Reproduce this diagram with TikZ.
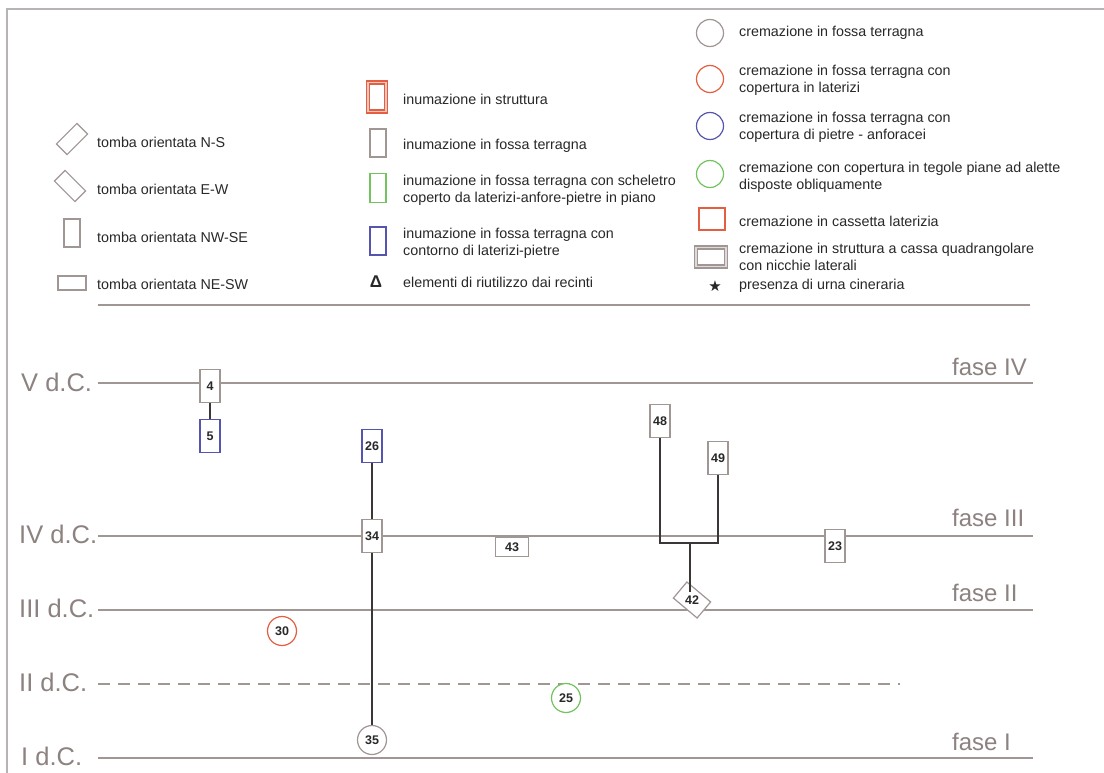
\documentclass[tikz,border=0pt]{standalone}
\usepackage{fontspec}
\setmainfont{Liberation Sans}
\newfontfamily\symfont{DejaVu Sans}
\usetikzlibrary{shapes.geometric}
\definecolor{gline}{RGB}{160,150,148}
\definecolor{framec}{RGB}{185,180,180}
\definecolor{labelc}{RGB}{140,130,128}
\definecolor{txt}{RGB}{40,40,40}
\definecolor{ored}{RGB}{228,95,65}
\definecolor{bblue}{RGB}{85,85,175}
\definecolor{ggreen}{RGB}{115,195,95}
\definecolor{conn}{RGB}{60,55,55}
\tikzset{
  legtext/.style={anchor=west, text=txt, font=\fontsize{14.3}{17}\selectfont, align=left, inner sep=0pt},
  shp/.style={draw=gline, fill=white, line width=1.2pt, inner sep=0pt},
  numfont/.style={font=\fontsize{12.5}{14}\selectfont\bfseries, text=txt},
  vbox/.style={shp, rectangle, minimum width=20pt, minimum height=33pt, numfont},
  hbox/.style={shp, rectangle, minimum width=33pt, minimum height=19pt, numfont},
  circ/.style={shp, circle, minimum size=29pt, numfont},
  timeline/.style={draw=gline, line width=1.3pt},
  datelabel/.style={anchor=base west, text=labelc, font=\fontsize{25.5}{27}\selectfont, inner sep=0pt},
  faselabel/.style={anchor=base west, text=labelc, font=\fontsize{24}{26}\selectfont, inner sep=0pt},
  link/.style={draw=conn, line width=1.6pt}
}
\begin{document}
\begin{tikzpicture}[x=1pt,y=-1pt]
\useasboundingbox (0,0) rectangle (1104,773);
\fill[white] (0,0) rectangle (1104,773);
% frame
\draw[framec, line width=1.3pt] (7,773) -- (7,9) -- (1104,9);

% ---------- legend left ----------
\node[shp, rectangle, minimum width=29pt, minimum height=15pt, rotate=45] (lns) at (72,139) {};
\node[legtext] (tns) at (97,142) {tomba orientata N-S};
\node[shp, rectangle, minimum width=29pt, minimum height=15pt, rotate=-45] (lew) at (70,186) {};
\node[legtext] (tew) at (97,189) {tomba orientata E-W};
\node[shp, rectangle, minimum width=16pt, minimum height=28pt] (lnw) at (72,233) {};
\node[legtext] (tnw) at (97,237) {tomba orientata NW-SE};
\node[shp, rectangle, minimum width=28pt, minimum height=14pt] (lne) at (72,283) {};
\node[legtext] (tne) at (97,284) {tomba orientata NE-SW};

% ---------- legend middle ----------
\node[draw=ored, double=ored!35, double distance=1.4pt, line width=1.4pt, minimum width=18pt, minimum height=29pt, inner sep=0pt] (lis) at (377,97) {};
\node[legtext] (tis) at (403,99) {inumazione in struttura};
\node[shp, minimum width=16pt, minimum height=28pt] (lif) at (378,143) {};
\node[legtext] (tif) at (403,146) {inumazione in fossa terragna};
\node[shp, draw=ggreen, minimum width=16pt, minimum height=29pt] (lig) at (378,188) {};
\node[legtext] (tig) at (403,190) {inumazione in fossa terragna con scheletro\\coperto da laterizi-anfore-pietre in piano};
\node[shp, draw=bblue, minimum width=16pt, minimum height=28pt] (lib) at (378,241) {};
\node[legtext] (tib) at (403,243) {inumazione in fossa terragna con\\contorno di laterizi-pietre};
\node[text=txt, font=\fontsize{17}{18}\selectfont\bfseries, inner sep=0pt] (ltr) at (376,282) {Δ};
\node[legtext] (ttr) at (403,282) {elementi di riutilizzo dai recinti};

% ---------- legend right ----------
\node[shp, circle, minimum size=27pt] (lc1) at (710,33) {};
\node[legtext] (tc1) at (739,33) {cremazione in fossa terragna};
\node[shp, circle, draw=ored, minimum size=27pt] (lc2) at (710,79) {};
\node[legtext] (tc2) at (739,80) {cremazione in fossa terragna con\\copertura in laterizi};
\node[shp, circle, draw=bblue, minimum size=27pt] (lc3) at (710,126) {};
\node[legtext] (tc3) at (739,127) {cremazione in fossa terragna con\\copertura di pietre - anforacei};
\node[shp, circle, draw=ggreen, minimum size=27pt] (lc4) at (710,174) {};
\node[legtext] (tc4) at (739,177) {cremazione con copertura in tegole piane ad alette\\disposte obliquamente};
\node[shp, draw=ored, minimum width=26pt, minimum height=22pt] (lcs) at (712,219) {};
\node[legtext] (tcs) at (739,221) {cremazione in cassetta laterizia};
\node[draw=gline, double=gline!35, double distance=1.8pt, line width=1.2pt, minimum width=30pt, minimum height=19pt, inner sep=0pt] (lcq) at (711,257) {};
\node[legtext] (tcq) at (739,257) {cremazione in struttura a cassa quadrangolare\\con nicchie laterali};
\node[text=txt, font=\symfont\fontsize{15}{16}\selectfont, inner sep=0pt] (lst) at (715,286) {★};
\node[legtext] (tst) at (739,286) {presenza di urna cineraria};

\draw[draw=gline, line width=1.3pt] (98,305) -- (1030,305);

% ---------- timeline ----------
\draw[timeline] (98,383) -- (1033,383);
\draw[timeline] (98,536) -- (1033,536);
\draw[timeline] (98,610) -- (1033,610);
\draw[timeline, dash pattern=on 12pt off 8pt] (98,684) -- (900,684);
\draw[timeline] (98,758) -- (1033,758);

\node[datelabel] (dV) at (21,391) {V d.C.};
\node[datelabel] (dIV) at (19,543) {IV d.C.};
\node[datelabel] (dIII) at (19,617) {III d.C.};
\node[datelabel] (dII) at (19,691) {II d.C.};
\node[datelabel] (dI) at (21,765) {I d.C.};

\node[faselabel] (fIV) at (952,375) {fase IV};
\node[faselabel] (fIII) at (952,526) {fase III};
\node[faselabel] (fII) at (952,601) {fase II};
\node[faselabel] (fI) at (952,750) {fase I};

% ---------- tombs ----------
\node[vbox] (t4) at (210,386) {4};
\node[vbox, draw=bblue] (t5) at (210,436) {5};
\node[vbox, draw=bblue] (t26) at (372,446) {26};
\node[vbox] (t34) at (372,536) {34};
\node[circ] (t35) at (372,740) {35};
\node[hbox] (t43) at (512,547) {43};
\node[vbox] (t48) at (660,421) {48};
\node[vbox] (t49) at (718,458) {49};
\node[shp, rectangle, minimum width=31pt, minimum height=21pt, rotate=-40] (t42) at (692,600) {};
\node[numfont, inner sep=0pt] (l42) at (t42.center) {42};
\node[vbox] (t23) at (835,546) {23};
\node[circ, draw=ored] (t30) at (282,631) {30};
\node[circ, draw=ggreen] (t25) at (566,698) {25};

\coordinate (j48) at (660,543);
\coordinate (j49) at (718,543);
\coordinate (jm) at (690,543);

% ---------- connectors ----------
\draw[link] (t4.south) -- (t5.north);
\draw[link] (t26.south) -- (t34.north);
\draw[link] (t34.south) -- (t35.north);
\draw[link] (t48.south) -- (j48) -- (j49) -- (t49.south);
\draw[link] (jm) -- (jm |- t42.north);
\end{tikzpicture}
\end{document}
